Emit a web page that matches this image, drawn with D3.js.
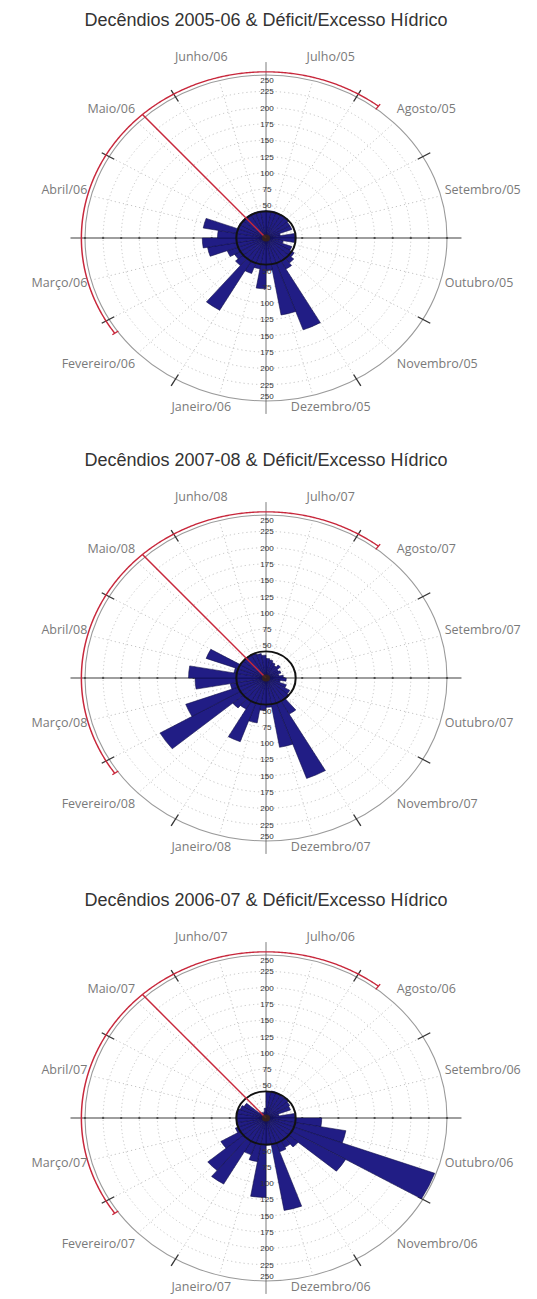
<!DOCTYPE html>
<html><head><meta charset="utf-8">
<script src="https://cdn.jsdelivr.net/npm/d3@7"></script>
<style>body{margin:0;background:#fff}</style>
</head><body>
<svg id="c" width="537" height="1299"></svg>
<script>
// ---------- data ----------
const monthNames = ["Julho","Agosto","Setembro","Outubro","Novembro","Dezembro","Janeiro","Fevereiro","Março","Abril","Maio","Junho"];
const chartTitles = [
  "Decêndios 2005-06 & Déficit/Excesso Hídrico",
  "Decêndios 2007-08 & Déficit/Excesso Hídrico",
  "Decêndios 2006-07 & Déficit/Excesso Hídrico"
];
const firstYear  = ["05","07","06"];
const secondYear = ["06","08","07"];
// 36 decêndios, starting 1st decêndio of July (top), clockwise
const values2005 = [42,42,41,41,40,38,38,20,40,40,24,38,45,50,55,150,120,50,78,48,58,128,55,50,57,82,88,67,88,42,42,42,42,42,42,42];
const values2007 = [30,28,25,22,26,20,22,18,24,28,20,30,38,42,64,164,108,45,50,70,104,55,60,169,118,50,98,107,45,88,41,41,41,40,38,35];
const values2006 = [40,42,41,40,40,38,36,18,40,77,112,248,127,58,52,55,144,42,122,68,60,117,105,72,45,41,41,41,41,38,35,12,10,8,10,15];
const seriesList = [values2005, values2007, values2006];
const radialTicks = [50,75,100,125,150,175,200,225,250];
const gridRings = [25,50,75,100,125,150,175,200,225];
const referenceLevel = 41;          // black reference circle
const dryArc = [235, 397.5];        // red arc, degrees clockwise from north
const markerAngle = 318;            // red line, degrees

// ---------- layout ----------
const cx = 266, centersY = [238, 678, 1118], ky = 0.9;
const rMax = 250;
const r = d3.scaleLinear().domain([0, rMax]).range([0, 181]);
const ang = d3.scaleLinear().domain([0, 36]).range([0, 2 * Math.PI]);
const rad = d => d * Math.PI / 180;

const svg = d3.select("#c");

seriesList.forEach((vals, ci) => {
  const cy = centersY[ci];
  const g = svg.append("g");

  g.append("text")
    .attr("x", cx).attr("y", cy - 212)
    .attr("text-anchor", "middle")
    .attr("font-family", "Liberation Sans, Arial, sans-serif")
    .attr("font-size", 18).attr("fill", "#333")
    .text(chartTitles[ci]);

  const p = g.append("g").attr("transform", `translate(${cx},${cy}) scale(1,${ky})`);

  // dotted grid rings
  p.selectAll(".ring").data(gridRings).join("circle")
    .attr("r", d => r(d)).attr("fill", "none")
    .attr("stroke", "#b8b8b8").attr("stroke-width", 0.9)
    .attr("stroke-dasharray", "1.2,3");

  // dotted spokes every 15°
  const spokes = d3.range(0, 360, 15).filter(a => a % 90 !== 0);
  p.selectAll(".spoke").data(spokes).join("line")
    .attr("x1", 0).attr("y1", 0)
    .attr("x2", a => r(rMax) * Math.sin(rad(a)))
    .attr("y2", a => -r(rMax) * Math.cos(rad(a)))
    .attr("stroke", "#b8b8b8").attr("stroke-width", 0.9)
    .attr("stroke-dasharray", "1.2,3");

  // outer circle
  p.append("circle").attr("r", r(rMax)).attr("fill", "none")
    .attr("stroke", "#9a9a9a").attr("stroke-width", 1.1);

  // main axes
  p.append("line").attr("x1", -r(270)).attr("x2", r(270)).attr("y1", 0).attr("y2", 0)
    .attr("stroke", "#333").attr("stroke-width", 1);
  p.append("line").attr("y1", -r(270)).attr("y2", r(270)).attr("x1", 0).attr("x2", 0)
    .attr("stroke", "#666").attr("stroke-width", 0.9);

  // axis dots on horizontal axis
  p.selectAll(".hdot").data(gridRings.concat([rMax]).flatMap(v => [v, -v])).join("circle")
    .attr("cx", v => (v > 0 ? 1 : -1) * r(Math.abs(v))).attr("cy", 0).attr("r", 1.2).attr("fill", "#444");

  // month boundary ticks
  const monthTicks = d3.range(30, 360, 30).filter(a => a % 90 !== 0);
  p.selectAll(".mt").data(monthTicks).join("line")
    .attr("x1", a => r(242) * Math.sin(rad(a))).attr("y1", a => -r(242) * Math.cos(rad(a)))
    .attr("x2", a => r(262) * Math.sin(rad(a))).attr("y2", a => -r(262) * Math.cos(rad(a)))
    .attr("stroke", "#333").attr("stroke-width", 1.3);

  // bars
  const arc = d3.arc().innerRadius(0)
    .outerRadius(d => r(d.v))
    .startAngle(d => ang(d.i)).endAngle(d => ang(d.i + 1));
  p.selectAll(".bar").data(vals.map((v, i) => ({ v, i }))).join("path")
    .attr("d", arc).attr("fill", "#211d85")
    .attr("stroke", "#0c0b45").attr("stroke-width", 0.6);

  // reference circle
  p.append("circle").attr("r", r(referenceLevel)).attr("fill", "none")
    .attr("stroke", "#111").attr("stroke-width", 2);

  // red arc
  const arcPts = d3.range(dryArc[0], dryArc[1] + 0.01, 0.5);
  p.append("path")
    .attr("d", d3.lineRadial().angle(a => rad(a)).radius(r(255))(arcPts))
    .attr("fill", "none").attr("stroke", "#c8283c").attr("stroke-width", 1.5);
  p.selectAll(".cap").data(dryArc).join("line")
    .attr("x1", a => r(249) * Math.sin(rad(a))).attr("y1", a => -r(249) * Math.cos(rad(a)))
    .attr("x2", a => r(259) * Math.sin(rad(a))).attr("y2", a => -r(259) * Math.cos(rad(a)))
    .attr("stroke", "#c8283c").attr("stroke-width", 1.4);

  // red marker line
  p.append("line").attr("x1", 0).attr("y1", 0)
    .attr("x2", r(255) * Math.sin(rad(markerAngle)))
    .attr("y2", -r(255) * Math.cos(rad(markerAngle)))
    .attr("stroke", "#c8283c").attr("stroke-width", 1.5);

  p.append("circle").attr("r", 4).attr("fill", "#3a2418").attr("opacity", 0.85);

  // radial tick labels (top & bottom)
  const tl = g.append("g").attr("font-family", "Liberation Sans, Arial, sans-serif")
    .attr("font-size", 8).attr("fill", "#333").attr("text-anchor", "middle");
  [-1, 1].forEach(s => {
    tl.selectAll(null).data(radialTicks).join("text")
      .attr("x", cx + 1)
      .attr("y", v => cy + s * Math.min(r(v), r(rMax) - 5) * ky + 3)
      .text(v => v);
  });

  // month labels
  const ml = g.append("g").attr("font-family", "Open Sans, sans-serif")
    .attr("font-size", 12.5).attr("fill", "#7a7a7a");
  monthNames.forEach((m, k) => {
    const a = rad(15 + 30 * k);
    const s = Math.sin(a), c = Math.cos(a);
    const side = Math.abs(s) > 0.5;
    const x = side ? cx + 185 * s : cx + 250 * s;
    const y = cy - (side ? 180 : (c > 0 ? 186 : 176)) * c;
    ml.append("text").attr("x", x).attr("y", y)
      .attr("dy", "0.2em")
      .attr("text-anchor", side ? (s > 0 ? "start" : "end") : "middle")
      .text(`${m}/${k < 6 ? firstYear[ci] : secondYear[ci]}`);
  });
});
</script>
</body></html>
